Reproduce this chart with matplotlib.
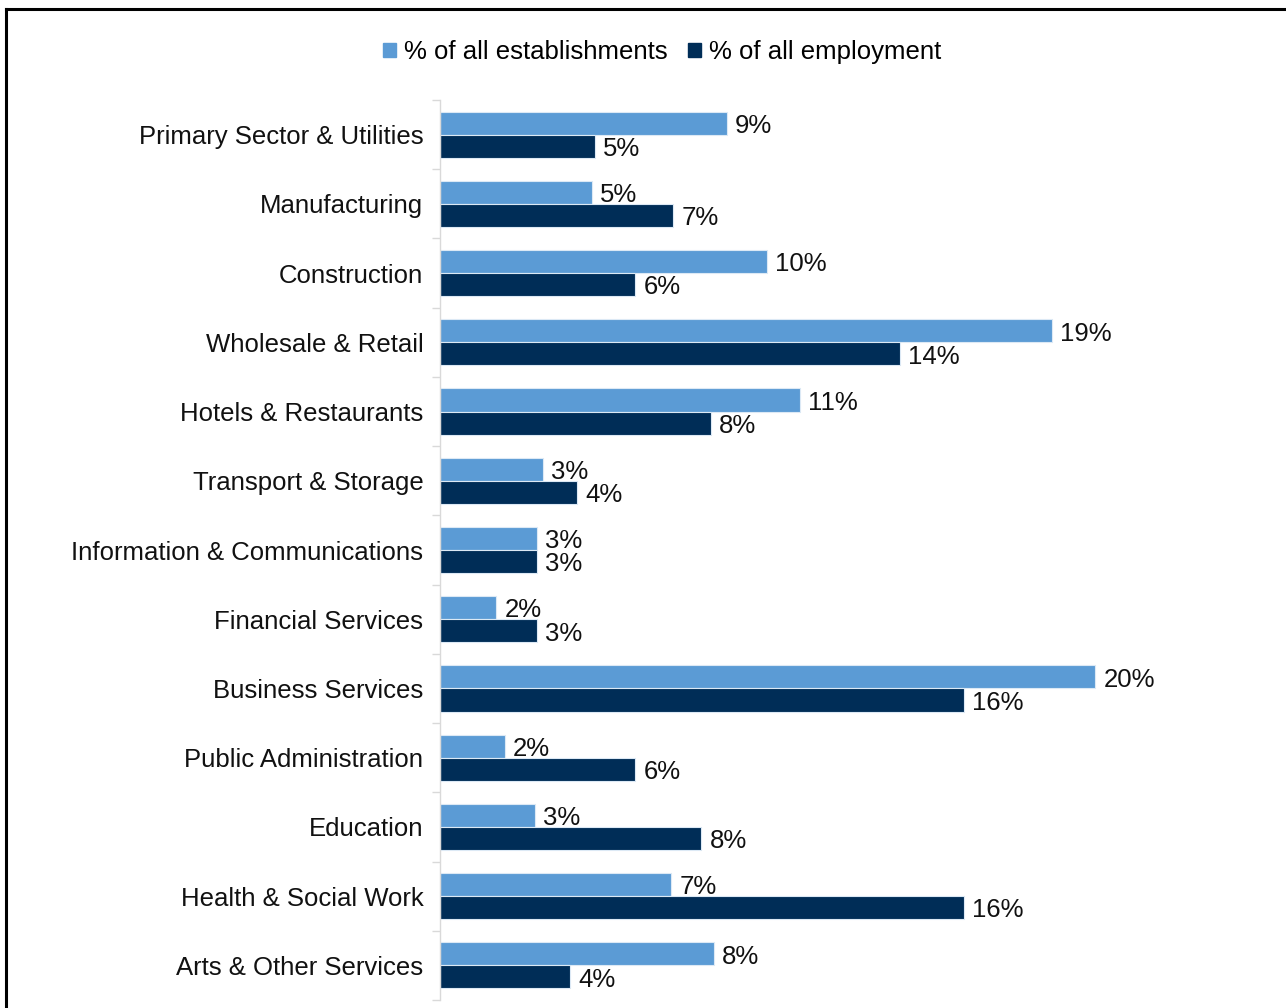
import matplotlib
matplotlib.use("Agg")
import matplotlib.pyplot as plt
from matplotlib.patches import Rectangle
from matplotlib.lines import Line2D
import numpy as np

plt.rcParams['font.family'] = ['Liberation Sans', 'DejaVu Sans']

categories = [
    "Primary Sector & Utilities",
    "Manufacturing",
    "Construction",
    "Wholesale & Retail",
    "Hotels & Restaurants",
    "Transport & Storage",
    "Information & Communications",
    "Financial Services",
    "Business Services",
    "Public Administration",
    "Education",
    "Health & Social Work",
    "Arts & Other Services",
]

establishments = [8.80, 4.66, 10.03, 18.77, 11.04, 3.16, 2.98, 1.72, 20.09, 1.99, 2.91, 7.09, 8.40]
employment = [4.75, 7.15, 5.98, 14.11, 8.31, 4.20, 2.98, 2.98, 16.07, 5.98, 8.01, 16.07, 3.99]

series_names = ["% of all establishments", "% of all employment"]
colors = ["#5B9BD5", "#002D57"]

W, H = 1286, 1008
fig = plt.figure(figsize=(W / 100, H / 100), dpi=100)

ax_left, ax_right = 440, 1240
ax_top, ax_bottom = 100, 1000
ax = fig.add_axes([ax_left / W, 1 - ax_bottom / H,
                   (ax_right - ax_left) / W, (ax_bottom - ax_top) / H])

n = len(categories)
y = np.arange(n)
bh = 0.333
fs = 18.5

ax.barh(y - bh / 2, establishments, height=bh, color=colors[0],
        edgecolor="#DCE9F5", linewidth=0.8, label=series_names[0])
ax.barh(y + bh / 2, employment, height=bh, color=colors[1],
        edgecolor="#DCE9F5", linewidth=0.8, label=series_names[1])

# value labels just past the end of each bar
for offset, vals in ((-bh / 2, establishments), (bh / 2, employment)):
    for yi, v in zip(y, vals):
        ax.annotate(f"{v:.0f}%", xy=(v, yi + offset), xytext=(6, -2),
                    textcoords="offset points", ha="left", va="center",
                    fontsize=fs, color="#111111")

ax.set_xlim(0, (ax_right - ax_left) / 32.6)
ax.set_ylim(n - 0.5, -0.5)

ax.set_yticks(y)
ax.set_yticklabels(categories, fontsize=fs, color="#111111")
ax.tick_params(axis="y", which="major", length=0, pad=12)
ax.set_yticks(np.arange(n + 1) - 0.5, minor=True)
ax.tick_params(axis="y", which="minor", length=6, width=1, color="#D9D9D9")
ax.set_xticks([])

for s in ("top", "right", "bottom"):
    ax.spines[s].set_visible(False)
ax.spines["left"].set_color("#D9D9D9")
ax.spines["left"].set_linewidth(1)

handles = [Rectangle((0, 0), 1, 1, color=c) for c in colors]
fig.legend(handles, series_names, loc="center",
           bbox_to_anchor=(662 / W, 1 - 52 / H), ncol=2, frameon=False,
           fontsize=fs, handlelength=0.5, handleheight=0.5,
           handletextpad=0.3, columnspacing=0.8)

# outer frame (top and left edges)
fig.add_artist(Line2D([6 / W, 1.0], [1 - 8.5 / H, 1 - 8.5 / H],
                      transform=fig.transFigure, color="black", lw=2.2))
fig.add_artist(Line2D([6 / W, 6 / W], [0.0, 1 - 8.5 / H],
                      transform=fig.transFigure, color="black", lw=2.2))

fig.savefig("out.png", dpi=100, facecolor="white")
